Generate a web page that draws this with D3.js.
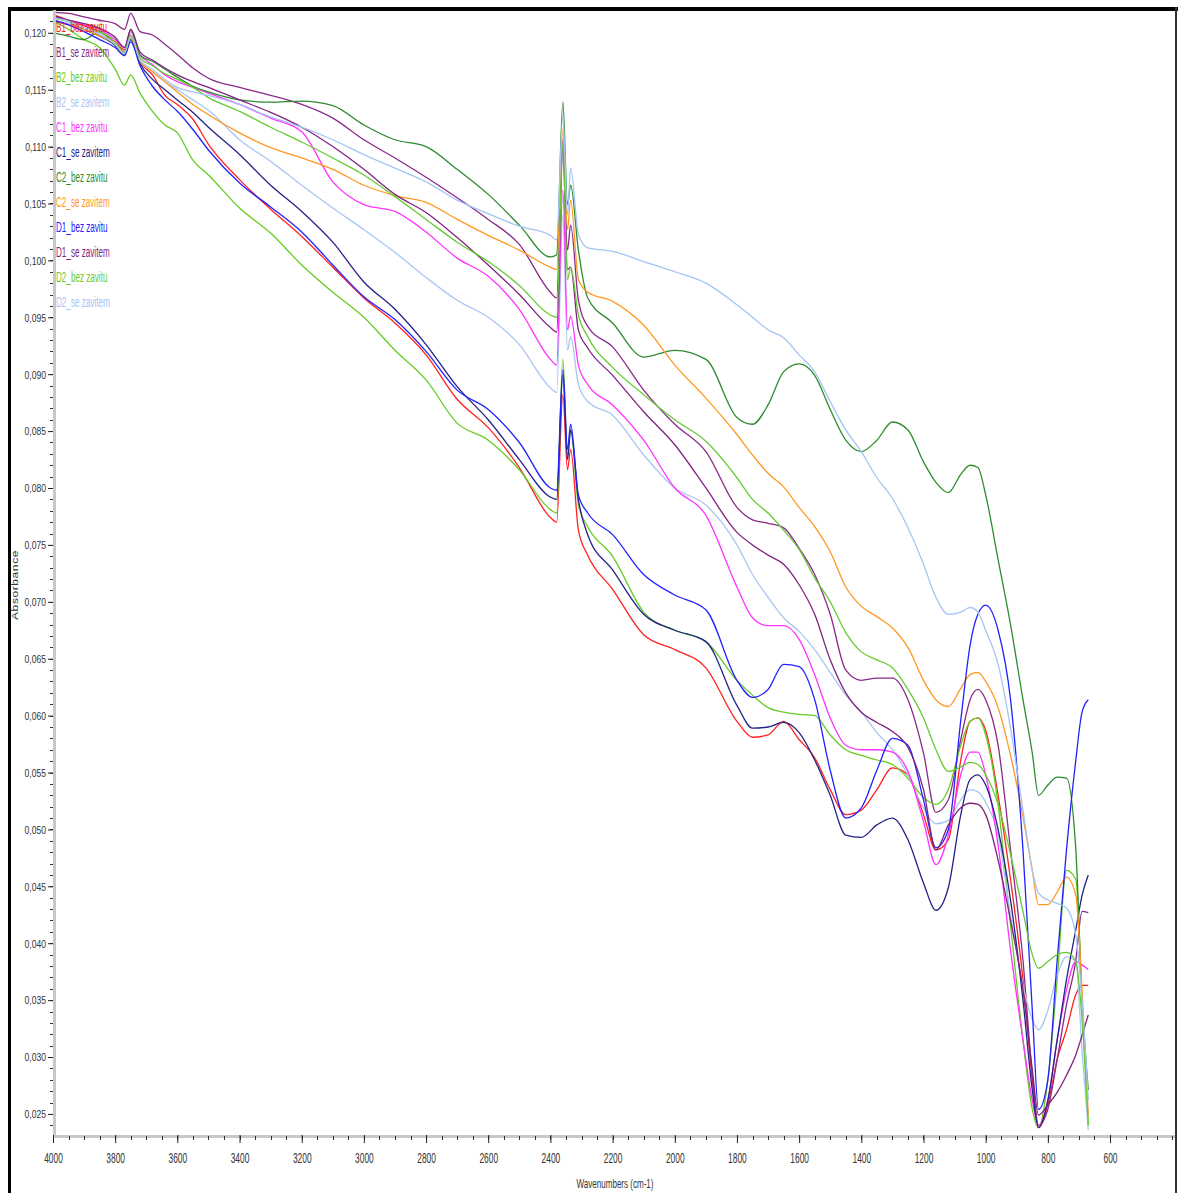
<!DOCTYPE html>
<html>
<head>
<meta charset="utf-8">
<script src="https://cdn.jsdelivr.net/npm/d3@7"></script>
<style>
  html, body { margin: 0; padding: 0; background: #ffffff; }
  svg { display: block; }
  text { font-family: "Liberation Sans", Arial, sans-serif; }
</style>
</head>
<body>
<svg id="chart" width="1178" height="1193"></svg>
<script>
// FTIR absorbance spectra, wavenumber axis runs from 4000 down to ~670 cm-1
const wavenumbers = [4000,3950,3900,3850,3800,3770,3750,3720,3680,3640,3600,3550,3500,3400,3300,3200,3100,3000,2900,2800,2700,2600,2500,2400,2380,2360,2345,2335,2310,2280,2200,2100,2000,1900,1800,1750,1700,1650,1600,1550,1500,1450,1400,1350,1300,1250,1200,1160,1120,1080,1050,1025,1000,960,920,880,850,830,800,770,740,710,690,670];

const b1Bez = [0.1216,0.1211,0.1206,0.1201,0.1192,0.1185,0.1198,0.1175,0.1163,0.1145,0.1137,0.1124,0.1102,0.1071,0.1045,0.1021,0.0994,0.0967,0.0945,0.0917,0.0878,0.0853,0.0818,0.0774,0.0770,0.0882,0.0816,0.0834,0.0763,0.0741,0.0711,0.0671,0.0658,0.0642,0.0595,0.0581,0.0583,0.0595,0.0579,0.0563,0.0535,0.0513,0.0517,0.0535,0.0554,0.0548,0.0513,0.0482,0.0491,0.0561,0.0595,0.0598,0.0587,0.0530,0.0456,0.0368,0.0280,0.0238,0.0258,0.0298,0.0324,0.0355,0.0363,0.0363];
const b1Se = [0.1218,0.1217,0.1214,0.1211,0.1208,0.1203,0.1217,0.1201,0.1198,0.1190,0.1181,0.1169,0.1160,0.1152,0.1145,0.1137,0.1125,0.1106,0.1090,0.1073,0.1055,0.1036,0.1014,0.0972,0.0967,0.1106,0.1009,0.1031,0.0965,0.0942,0.0924,0.0886,0.0856,0.0832,0.0783,0.0772,0.0769,0.0765,0.0747,0.0724,0.0689,0.0640,0.0631,0.0633,0.0633,0.0614,0.0567,0.0515,0.0526,0.0579,0.0614,0.0623,0.0614,0.0574,0.0482,0.0385,0.0284,0.0240,0.0254,0.0298,0.0346,0.0385,0.0428,0.0427];
const b2Bez = [0.1210,0.1203,0.1194,0.1187,0.1168,0.1154,0.1163,0.1147,0.1131,0.1119,0.1112,0.1088,0.1075,0.1046,0.1024,0.0996,0.0972,0.0950,0.0921,0.0895,0.0857,0.0842,0.0816,0.0781,0.0778,0.0913,0.0829,0.0851,0.0785,0.0766,0.0740,0.0691,0.0675,0.0665,0.0631,0.0618,0.0607,0.0603,0.0601,0.0600,0.0583,0.0570,0.0565,0.0561,0.0557,0.0545,0.0528,0.0522,0.0535,0.0574,0.0595,0.0598,0.0583,0.0522,0.0416,0.0315,0.0254,0.0238,0.0280,0.0368,0.0464,0.0456,0.0350,0.0240];
const b2Se = [0.1211,0.1208,0.1203,0.1198,0.1190,0.1181,0.1196,0.1175,0.1166,0.1157,0.1150,0.1141,0.1132,0.1106,0.1087,0.1066,0.1046,0.1027,0.1007,0.0985,0.0965,0.0950,0.0926,0.0888,0.0884,0.1040,0.0921,0.0933,0.0891,0.0876,0.0864,0.0829,0.0800,0.0785,0.0750,0.0724,0.0704,0.0686,0.0674,0.0658,0.0638,0.0618,0.0603,0.0585,0.0570,0.0548,0.0519,0.0505,0.0508,0.0526,0.0535,0.0533,0.0524,0.0495,0.0425,0.0363,0.0333,0.0324,0.0341,0.0372,0.0388,0.0384,0.0306,0.0236];
const c1Bez = [0.1214,0.1211,0.1207,0.1203,0.1194,0.1187,0.1201,0.1181,0.1172,0.1163,0.1157,0.1152,0.1147,0.1137,0.1125,0.1113,0.1069,0.1049,0.1043,0.1025,0.1002,0.0986,0.0957,0.0913,0.0908,0.1062,0.0939,0.0951,0.0908,0.0891,0.0873,0.0842,0.0800,0.0776,0.0713,0.0686,0.0679,0.0679,0.0667,0.0636,0.0598,0.0574,0.0570,0.0570,0.0568,0.0551,0.0507,0.0469,0.0495,0.0548,0.0568,0.0568,0.0548,0.0486,0.0394,0.0315,0.0262,0.0240,0.0262,0.0315,0.0359,0.0384,0.0381,0.0377];
const c1Se = [0.1213,0.1210,0.1203,0.1197,0.1189,0.1180,0.1194,0.1173,0.1159,0.1150,0.1141,0.1130,0.1117,0.1093,0.1066,0.1043,0.1016,0.0981,0.0957,0.0926,0.0889,0.0860,0.0825,0.0792,0.0790,0.0899,0.0825,0.0851,0.0790,0.0759,0.0728,0.0689,0.0675,0.0665,0.0609,0.0589,0.0590,0.0594,0.0585,0.0561,0.0530,0.0495,0.0493,0.0504,0.0510,0.0491,0.0453,0.0429,0.0449,0.0513,0.0544,0.0548,0.0539,0.0500,0.0438,0.0350,0.0271,0.0238,0.0262,0.0315,0.0368,0.0412,0.0442,0.0460];
const c2Bez = [0.1200,0.1197,0.1194,0.1201,0.1189,0.1183,0.1203,0.1180,0.1175,0.1168,0.1161,0.1153,0.1148,0.1141,0.1139,0.1140,0.1136,0.1119,0.1106,0.1100,0.1080,0.1058,0.1031,0.1003,0.1005,0.1139,0.1049,0.1066,0.1009,0.0967,0.0945,0.0915,0.0921,0.0913,0.0862,0.0856,0.0873,0.0902,0.0909,0.0899,0.0869,0.0842,0.0832,0.0842,0.0858,0.0851,0.0823,0.0805,0.0796,0.0812,0.0820,0.0818,0.0794,0.0737,0.0680,0.0614,0.0567,0.0530,0.0539,0.0546,0.0545,0.0482,0.0350,0.0271];
const c2Se = [0.1211,0.1207,0.1203,0.1197,0.1190,0.1180,0.1196,0.1175,0.1166,0.1157,0.1148,0.1137,0.1128,0.1112,0.1099,0.1090,0.1080,0.1066,0.1057,0.1051,0.1036,0.1022,0.1009,0.0994,0.0992,0.1115,0.1027,0.1053,0.0983,0.0972,0.0964,0.0943,0.0908,0.0879,0.0847,0.0829,0.0813,0.0801,0.0783,0.0766,0.0744,0.0713,0.0696,0.0687,0.0677,0.0660,0.0631,0.0614,0.0608,0.0624,0.0636,0.0638,0.0630,0.0607,0.0565,0.0511,0.0464,0.0434,0.0434,0.0445,0.0458,0.0442,0.0359,0.0249];
const d1Bez = [0.1211,0.1207,0.1201,0.1194,0.1187,0.1180,0.1192,0.1171,0.1153,0.1141,0.1131,0.1115,0.1097,0.1068,0.1047,0.1025,0.0996,0.0968,0.0948,0.0920,0.0886,0.0869,0.0840,0.0800,0.0798,0.0904,0.0834,0.0856,0.0794,0.0778,0.0759,0.0724,0.0706,0.0693,0.0631,0.0616,0.0623,0.0645,0.0643,0.0614,0.0552,0.0510,0.0519,0.0552,0.0580,0.0574,0.0526,0.0484,0.0500,0.0596,0.0662,0.0689,0.0697,0.0675,0.0614,0.0482,0.0341,0.0254,0.0280,0.0385,0.0482,0.0561,0.0603,0.0614];
const d1Se = [0.1215,0.1211,0.1208,0.1204,0.1196,0.1187,0.1203,0.1183,0.1176,0.1169,0.1163,0.1157,0.1152,0.1141,0.1130,0.1117,0.1100,0.1080,0.1058,0.1042,0.1020,0.0996,0.0970,0.0941,0.0937,0.1097,0.0992,0.0994,0.0939,0.0923,0.0899,0.0867,0.0838,0.0800,0.0761,0.0750,0.0741,0.0733,0.0715,0.0689,0.0649,0.0620,0.0603,0.0594,0.0586,0.0572,0.0535,0.0482,0.0504,0.0519,0.0523,0.0522,0.0513,0.0473,0.0420,0.0359,0.0289,0.0249,0.0258,0.0269,0.0284,0.0302,0.0319,0.0337];
const d2Bez = [0.1213,0.1210,0.1204,0.1201,0.1192,0.1183,0.1198,0.1178,0.1171,0.1164,0.1159,0.1152,0.1143,0.1131,0.1117,0.1104,0.1090,0.1075,0.1056,0.1036,0.1016,0.0999,0.0978,0.0952,0.0950,0.1102,0.0983,0.0994,0.0952,0.0933,0.0906,0.0882,0.0860,0.0841,0.0809,0.0790,0.0778,0.0763,0.0746,0.0721,0.0700,0.0673,0.0656,0.0649,0.0642,0.0623,0.0598,0.0570,0.0551,0.0555,0.0559,0.0557,0.0548,0.0522,0.0478,0.0428,0.0390,0.0378,0.0384,0.0390,0.0392,0.0384,0.0333,0.0240];
const d2Se = [0.1213,0.1210,0.1204,0.1199,0.1190,0.1182,0.1197,0.1176,0.1168,0.1159,0.1152,0.1148,0.1145,0.1137,0.1126,0.1117,0.1106,0.1093,0.1081,0.1069,0.1053,0.1041,0.1030,0.1022,0.1018,0.1127,0.1040,0.1081,0.1023,0.1011,0.1008,0.0999,0.0990,0.0980,0.0961,0.0950,0.0939,0.0932,0.0917,0.0902,0.0876,0.0851,0.0832,0.0809,0.0791,0.0765,0.0733,0.0704,0.0689,0.0691,0.0695,0.0691,0.0675,0.0645,0.0589,0.0517,0.0464,0.0444,0.0438,0.0435,0.0431,0.0407,0.0350,0.0262];

const seriesNames = ["B1_bez zavitu","B1_se zavitem","B2_bez zavitu","B2_se zavitem","C1_bez zavitu","C1_se zavitem","C2_bez zavitu","C2_se zavitem","D1_bez zavitu","D1_se zavitem","D2_bez zavitu","D2_se zavitem"];
const seriesValues = [b1Bez, b1Se, b2Bez, b2Se, c1Bez, c1Se, c2Bez, c2Se, d1Bez, d1Se, d2Bez, d2Se];
const seriesColors = ["#ff2020","#8a2a8a","#66cc22","#a9c6f2","#ff33ff","#222288","#2e8b2e","#ff9922","#2222ff","#7f237f","#66cc33","#a4c4f4"];

const yTicks = [0.025,0.030,0.035,0.040,0.045,0.050,0.055,0.060,0.065,0.070,0.075,0.080,0.085,0.090,0.095,0.100,0.105,0.110,0.115,0.120];
const xTicks = [4000,3800,3600,3400,3200,3000,2800,2600,2400,2200,2000,1800,1600,1400,1200,1000,800,600];

const svg = d3.select("#chart");
const plot = { left: 53, right: 1175, top: 10, bottom: 1135 };

const x = d3.scaleLinear().domain([4000, 391]).range([plot.left, plot.right]);
const y = d3.scaleLinear().domain([0.02315, 0.1220]).range([plot.bottom, plot.top]);

// outer frame
svg.append("rect").attr("x", 8).attr("y", 7).attr("width", 1170).attr("height", 4).attr("fill", "#000");
svg.append("rect").attr("x", 8).attr("y", 7).attr("width", 3).attr("height", 1186).attr("fill", "#000");
svg.append("rect").attr("x", 1175).attr("y", 7).attr("width", 2).attr("height", 1186).attr("fill", "#333");

svg.append("clipPath").attr("id", "plotClip")
  .append("rect").attr("x", plot.left).attr("y", plot.top)
  .attr("width", plot.right - plot.left).attr("height", plot.bottom - plot.top);

// spectra
const line = d3.line()
  .x((d, i) => x(wavenumbers[i]))
  .y(d => y(d))
  .curve(d3.curveMonotoneX);

svg.append("g").attr("clip-path", "url(#plotClip)")
  .selectAll("path")
  .data(seriesValues)
  .join("path")
  .attr("d", d => line(d))
  .attr("fill", "none")
  .attr("stroke", (d, i) => seriesColors[i])
  .attr("stroke-width", 1.3)
  .attr("stroke-linejoin", "round");

// axis bands
svg.append("rect").attr("x", plot.left).attr("y", plot.top).attr("width", 3)
  .attr("height", plot.bottom - plot.top + 2).attr("fill", "#c8c8c8");
svg.append("rect").attr("x", plot.left).attr("y", plot.bottom).attr("width", plot.right - plot.left)
  .attr("height", 3).attr("fill", "#c8c8c8");

const fmtComma = d => d3.format(".3f")(d).replace(".", ",");

// y axis
const yMinor = d3.range(24, 123).map(v => v / 1000);
const yAxisG = svg.append("g").attr("transform", `translate(${plot.left},0)`);
yAxisG.selectAll("line.minor").data(yMinor).join("line")
  .attr("x1", -3).attr("x2", 0)
  .attr("y1", d => Math.round(y(d)) + 0.5).attr("y2", d => Math.round(y(d)) + 0.5)
  .attr("stroke", "#333").attr("stroke-width", 1);
yAxisG.call(d3.axisLeft(y).tickValues(yTicks).tickSize(5).tickFormat(fmtComma))
  .call(g => g.select(".domain").remove())
  .call(g => g.selectAll(".tick line").attr("stroke", "#222"))
  .call(g => g.selectAll(".tick text")
    .attr("x", null).attr("dy", "0.35em")
    .attr("transform", "translate(-7,0) scale(0.78,1)")
    .attr("fill", "#333").attr("font-size", 11)
    .attr("font-family", "Liberation Sans, Arial, sans-serif"));

// x axis
const xMinor = d3.range(400, 4001, 50);
const xAxisG = svg.append("g").attr("transform", `translate(0,${plot.bottom + 2})`);
xAxisG.selectAll("line.minor").data(xMinor).join("line")
  .attr("x1", d => Math.round(x(d)) + 0.5).attr("x2", d => Math.round(x(d)) + 0.5)
  .attr("y1", -1).attr("y2", 3)
  .attr("stroke", "#333").attr("stroke-width", 1);
xAxisG.call(d3.axisBottom(x).tickValues(xTicks).tickSize(6).tickFormat(d3.format("d")))
  .call(g => g.select(".domain").remove())
  .call(g => g.selectAll(".tick line").attr("stroke", "#222").attr("y1", -2))
  .call(g => g.selectAll(".tick text")
    .attr("y", null).attr("dy", null)
    .attr("transform", "translate(0,26) scale(0.6,1)")
    .attr("fill", "#333").attr("font-size", 14)
    .attr("font-family", "Liberation Sans, Arial, sans-serif"));

// axis titles
svg.append("text")
  .attr("transform", "translate(18,585) rotate(-90) scale(1,0.8)")
  .attr("text-anchor", "middle").attr("font-size", 12).attr("fill", "#333")
  .attr("letter-spacing", 0.6)
  .text("Absorbance");
svg.append("text")
  .attr("transform", "translate(615,1188) scale(0.62,1)")
  .attr("text-anchor", "middle").attr("font-size", 13).attr("fill", "#333")
  .text("Wavenumbers (cm-1)");

// legend
svg.append("g").selectAll("text")
  .data(seriesNames)
  .join("text")
  .attr("transform", (d, i) => `translate(56,${32 + i * 25}) scale(0.58,1)`)
  .attr("font-size", 14)
  .attr("fill", (d, i) => seriesColors[i])
  .text(d => d);
</script>
</body>
</html>
